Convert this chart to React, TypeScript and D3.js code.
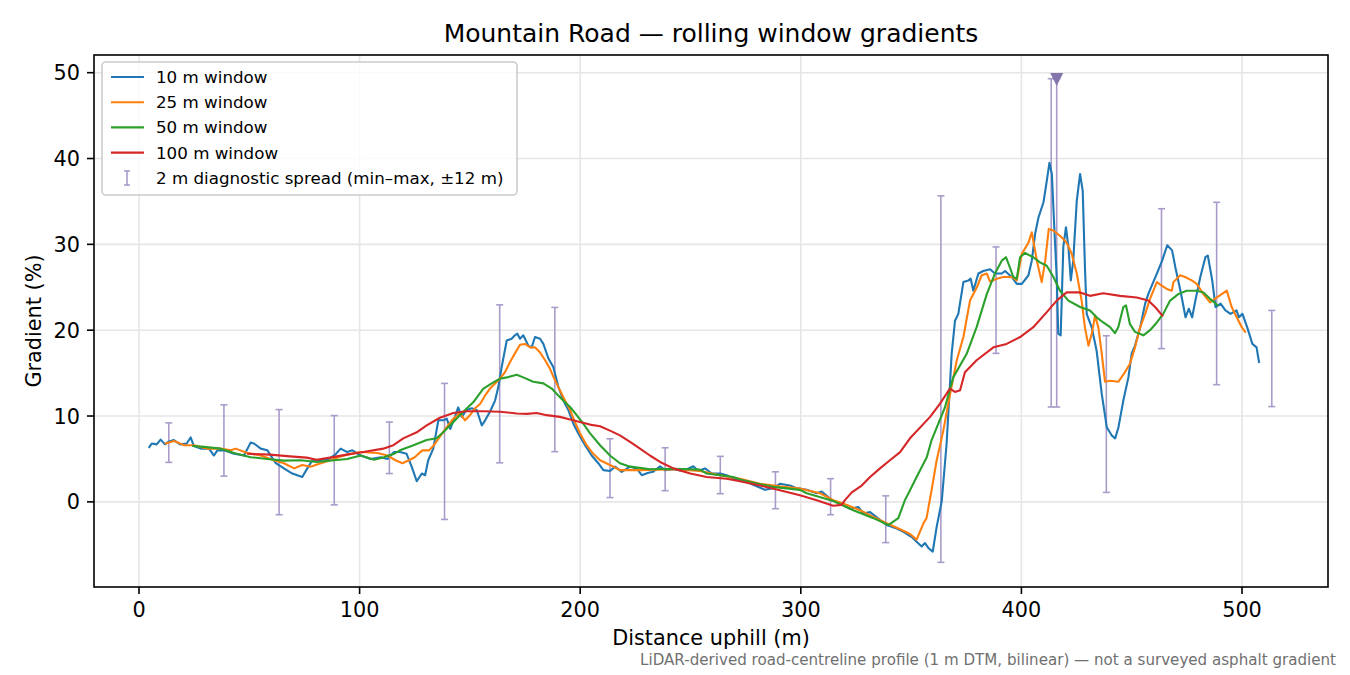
import React from "react";
import * as d3 from "d3";

const width = 1350;
const height = 675;
const plot = { left: 94, top: 55, right: 1328, bottom: 587 };
const FONT = "DejaVu Sans, Verdana, sans-serif";

const xTicks = [0, 100, 200, 300, 400, 500];
const yTicks = [0, 10, 20, 30, 40, 50];

// 10 m rolling window (distance m, gradient %)
const win10: [number, number][] = [
  [4.7, 6.4], [5.8, 6.8], [8.0, 6.7], [9.8, 7.25], [11.8, 6.7], [13.3, 7.0], [15.8, 7.2], [18.6, 6.7],
  [21.6, 6.8], [23.4, 7.5], [24.9, 6.5], [28, 6.2], [31.7, 6.2], [34, 5.4], [35.5, 6.0], [38.5, 6.0],
  [43.1, 5.6], [47.6, 5.4], [50.6, 6.9], [52.1, 6.8], [55.2, 6.2], [58.2, 6.0], [62, 4.5], [65.7, 3.9],
  [69.5, 3.3], [74, 2.9], [76.3, 3.9], [78.6, 4.85], [80.1, 4.7], [82, 4.85], [86, 5.0], [89, 5.5],
  [91.4, 6.2], [94.4, 5.8], [96.7, 6.0], [100.5, 5.4], [105, 5.0], [109.6, 5.2], [112.6, 5.0], [115.6, 5.8],
  [118.3, 5.8], [121.3, 5.6], [123.6, 4.1], [125.9, 2.4], [128.2, 3.3], [129.7, 3.1], [131.1, 4.85],
  [133.4, 6.2], [135.7, 9.5], [138, 9.5], [139.5, 9.7], [141.1, 8.5], [143.2, 9.9], [144.7, 11.0],
  [146.3, 9.9], [148.5, 10.7], [150.8, 10.9], [153.1, 10.7], [155.4, 8.9], [156.9, 9.5], [159.1, 10.5],
  [161.4, 11.8], [162.9, 13.4], [164.4, 15.7], [166.7, 18.8], [168.9, 19.0], [170.4, 19.4], [171.5, 19.6],
  [172.7, 19.0], [174.2, 19.4], [176.5, 18.2], [178, 18.0], [179.5, 19.2], [181.8, 19.0], [183.3, 18.4],
  [185.6, 16.7], [187.8, 15.7], [190.1, 13.4], [192.4, 11.8], [194.6, 10.7], [196.9, 9.1], [199.1, 8.0],
  [202.2, 6.6], [205.2, 5.4], [208.2, 4.5], [210.5, 3.7], [213.5, 3.6], [215.8, 4.1], [218.8, 3.5],
  [222.6, 4.1], [225.6, 3.9], [227.9, 3.1], [230.9, 3.4], [233.1, 3.5], [236.2, 4.15], [238.4, 3.7],
  [242.2, 3.8], [246.7, 3.6], [251.3, 4.15], [253.5, 3.6], [256.6, 3.9], [259.6, 3.3], [263.4, 3.3],
  [266.4, 3.1], [269.4, 2.7], [275.5, 2.3], [279.2, 1.9], [283.8, 1.4], [287.5, 1.6], [290.5, 2.1],
  [295.1, 1.9], [298.1, 1.6], [302.7, 1.4], [307.2, 1.0], [309.5, 1.2], [314, 0.2], [317.8, -0.2],
  [322.3, -0.8], [326.1, -0.6], [328.3, -1.35], [331.4, -1.2], [335.9, -2.1], [338.9, -2.7], [343.5, -3.1],
  [346.5, -3.5], [350.3, -4.1], [352.5, -4.65], [354.8, -5.2], [356.3, -4.8], [357.9, -5.4], [359.8, -5.8],
  [361.6, -2.9], [363.9, 0.1], [366.1, 6.8], [368.4, 17.3], [369.9, 21.1], [371.4, 21.9], [373.7, 25.6],
  [376, 25.8], [377, 26.0], [378.2, 24.6], [380.5, 26.6], [382.7, 26.9], [385.8, 27.1], [388, 26.6],
  [391.1, 26.6], [392.6, 26.9], [395.6, 26.2], [397.9, 25.4], [400.2, 25.4], [403.2, 26.4], [404.7, 28.1],
  [406.2, 31.2], [407.7, 33.1], [410, 34.9], [411.5, 37.4], [412.7, 39.5], [413.8, 38.2], [414.9, 32.0],
  [416, 26.2], [416.7, 19.6], [417.8, 19.4], [419, 29.7], [420.2, 32.0], [421.3, 29.7], [422.4, 25.8],
  [423.5, 28.1], [425.1, 35.1], [426.6, 38.2], [427.8, 36.2], [428.8, 27.3], [429.6, 21.9], [431.9, 20.3],
  [434.1, 17.6], [436.4, 12.6], [438.7, 8.7], [440.9, 7.75], [442.5, 7.4], [444, 8.7], [446.2, 11.8],
  [448.5, 14.5], [450, 17.3], [451.5, 18.2], [453.8, 20.3], [456.1, 23.1], [457.5, 24.2], [459.1, 25.2],
  [461.4, 26.6], [463.8, 28.1], [466.1, 29.9], [468.3, 29.3], [469.8, 27.3], [472.1, 24.6], [474.4, 21.5],
  [475.9, 22.5], [477.4, 21.5], [478.9, 23.5], [481.1, 26.2], [483.4, 28.5], [484.5, 28.7], [486.5, 25.8],
  [488, 22.7], [490.3, 23.1], [492.5, 22.3], [494.8, 21.9], [497.5, 22.3], [498.6, 21.5], [500.2, 21.9],
  [502.4, 20.3], [504.7, 18.4], [506.6, 18.0], [507.7, 16.3],
];

// 25 m rolling window
const win25: [number, number][] = [
  [12.1, 6.8], [15.9, 7.1], [20.4, 6.6], [24.9, 6.6], [31, 6.2], [37, 6.2], [41.6, 6.0], [43.8, 6.2],
  [49.1, 5.7], [55.2, 5.4], [61.2, 4.85], [65.7, 4.5], [70.3, 3.9], [74, 4.3], [77.8, 4.1], [82.4, 4.5],
  [86.9, 4.85], [91.4, 5.3], [96, 5.6], [100.5, 5.8], [108.1, 5.7], [112.6, 5.4], [116.3, 4.85],
  [119.4, 4.5], [122.4, 4.85], [125, 5.2], [128.4, 6.0], [131.5, 6.0], [133.7, 6.6], [136.4, 7.6],
  [139.5, 8.7], [142.5, 9.7], [145.5, 10.3], [147.8, 9.5], [150, 10.1], [152.3, 10.9], [154.6, 11.4],
  [156.9, 12.4], [159.1, 13.2], [161.4, 13.8], [163.6, 14.35], [165.9, 15.1], [168.2, 16.3], [170.4, 17.3],
  [172.7, 18.3], [175, 18.4], [177.3, 18.0], [179.5, 18.0], [181.8, 17.4], [184.1, 16.5], [186.3, 15.5],
  [188.6, 14.15], [190.8, 13.0], [193.1, 11.8], [195.4, 10.7], [197.6, 9.3], [199.9, 8.0], [202.9, 6.6],
  [205.9, 5.6], [209, 4.85], [213.5, 4.3], [218, 3.7], [227.1, 3.7], [242.2, 3.8], [254.3, 3.6],
  [263.4, 3.1], [272.4, 2.7], [281.5, 2.1], [290.5, 1.8], [299.6, 1.55], [308.7, 1.0], [314.7, 0.2],
  [319.2, -0.2], [326.8, -0.97], [332.9, -1.75], [338.9, -2.5], [345, -3.2], [349.5, -3.75], [352.5, -4.4],
  [355.6, -2.5], [357, -1.9], [359.3, 1.4], [361.6, 4.85], [364.6, 8.3], [367.7, 12.6], [370.7, 16.5],
  [373.7, 19.2], [376.7, 23.45], [379.8, 25.0], [382, 26.4], [384.3, 26.6], [385.8, 25.65], [388.8, 26.0],
  [391.8, 26.2], [395.6, 26.2], [397.9, 25.8], [400.2, 28.9], [403.2, 30.2], [404.7, 31.4], [407, 28.1],
  [409.2, 25.6], [410.8, 28.1], [412.4, 31.8], [414.5, 31.6], [417.5, 31.0], [420.5, 30.2], [422.8, 28.9],
  [425.1, 26.6], [427.3, 23.45], [428.8, 20.3], [430.4, 18.2], [431.9, 19.6], [433.4, 21.7], [434.9, 20.3],
  [436.4, 17.3], [437.9, 14.0], [440.2, 14.1], [444, 14.0], [446.9, 15.1], [449.2, 16.1], [451.5, 18.0],
  [453.8, 20.3], [456.1, 21.9], [458.3, 23.65], [461.4, 25.6], [463.6, 25.2], [465.9, 24.8], [468.2, 24.6],
  [468.9, 25.6], [472, 26.4], [474.2, 26.2], [477.2, 25.8], [479.5, 25.4], [482.5, 24.2], [485.5, 23.25],
  [488.5, 23.8], [490.8, 24.2], [493.1, 24.6], [495.3, 22.7], [497.6, 21.5], [499.9, 20.35], [501.4, 19.8],
];

// 50 m rolling window
const win50: [number, number][] = [
  [24.6, 6.5], [29.5, 6.4], [37, 6.2], [43.1, 5.7], [50.6, 5.2], [58.2, 5.0], [65.7, 4.8], [73.3, 4.85],
  [80.8, 4.65], [88.4, 4.85], [94.4, 5.0], [100.5, 5.4], [106.5, 4.9], [111.1, 5.2], [115.6, 5.6],
  [118.3, 6.0], [124.4, 6.6], [130.4, 7.2], [134.9, 7.4], [137.9, 8.1], [142.5, 9.3], [147, 10.5],
  [151.5, 11.6], [156.1, 13.2], [159.9, 13.8], [163.6, 14.35], [166.7, 14.5], [171.2, 14.8], [174.2, 14.5],
  [178.7, 14.0], [183.3, 13.8], [187.1, 13.2], [189.3, 12.6], [192.3, 11.8], [195.4, 11.05], [198.4, 10.1],
  [201.4, 9.1], [204.4, 8.0], [209, 6.6], [213.5, 5.4], [218, 4.5], [222.6, 4.1], [228.6, 3.9],
  [231.6, 3.8], [242.2, 3.85], [254.3, 3.75], [257.3, 3.3], [269.4, 2.9], [272.4, 2.6], [284.5, 1.9],
  [287.5, 1.75], [299.6, 1.4], [302.7, 1.0], [314.7, 0.1], [323.8, -0.97], [332.9, -1.9], [339.7, -2.7],
  [344.2, -1.9], [347.2, 0.2], [349.5, 1.36], [352.5, 2.9], [357.1, 5.2], [359.3, 7.2], [365.4, 11.05],
  [369.1, 14.5], [375.2, 17.25], [379.7, 20.35], [384.3, 24.2], [388, 26.6], [391.1, 28.1], [393, 28.5],
  [394.8, 27.3], [396.3, 26.2], [397.9, 26.0], [399.4, 28.5], [401.6, 29.0], [405.4, 28.5], [408.4, 27.9],
  [411.5, 27.5], [414.5, 26.2], [417.5, 24.6], [421.3, 23.45], [426.6, 22.7], [431.1, 22.3], [434.1, 21.5],
  [437.1, 20.9], [440.2, 20.35], [442.4, 19.65], [443.9, 20.35], [446.2, 22.7], [447.4, 22.9], [449.2, 20.7],
  [451.5, 19.8], [455.3, 19.4], [458.3, 20.0], [461.4, 20.9], [464.3, 21.9], [467.4, 23.45], [471.1, 24.2],
  [474.9, 24.6], [479.5, 24.6], [482.5, 24.4], [485.5, 23.65], [489, 22.9],
];

// 100 m rolling window
const win100: [number, number][] = [
  [49.5, 5.6], [59.4, 5.5], [68.4, 5.3], [76, 5.15], [80.5, 4.9], [86.6, 5.15], [94.2, 5.5], [101.7, 5.8],
  [110.7, 6.2], [115.3, 6.6], [119.8, 7.4], [125.9, 8.1], [130.4, 8.9], [136.4, 9.8], [142.5, 10.35],
  [148.5, 10.55], [156.1, 10.55], [163.6, 10.5], [171.2, 10.3], [175.8, 10.25], [180.3, 10.35],
  [184.8, 10.1], [190.8, 9.9], [195.4, 9.6], [199.9, 9.3], [204.4, 9.0], [209, 8.8], [213.5, 8.3],
  [218, 7.75], [222.6, 7.0], [227.1, 6.2], [231.6, 5.4], [236.2, 4.65], [242.2, 3.9], [249.9, 3.3],
  [257.3, 2.9], [266.4, 2.7], [272.4, 2.4], [281.5, 1.9], [290.5, 1.36], [299.6, 0.78], [307.2, 0.2],
  [314.7, -0.45], [318.5, -0.35], [320, 0.2], [323.1, 1.1], [327.6, 1.9], [331.4, 2.9], [335.9, 3.9],
  [340.4, 4.85], [345, 5.8], [349.5, 7.4], [358.6, 9.9], [363.1, 11.45], [367.6, 13.2], [369.9, 12.8],
  [372.2, 13.0], [374.4, 15.1], [379.7, 16.5], [387.3, 18.0], [393.3, 18.4], [399.4, 19.2], [405.4, 20.35],
  [411.5, 22.1], [416, 23.45], [420.5, 24.4], [426.6, 24.4], [431.1, 24.0], [437.1, 24.3], [444.7, 24.0],
  [452.3, 23.8], [457.5, 23.45], [460.6, 22.7], [463.9, 21.7],
];

// 2 m diagnostic spread (min–max, ±12 m)
const spreadX = [13.5, 38.5, 63.5, 88.5, 113.5, 138.5, 163.5, 188.5, 213.5, 238.5, 263.5, 288.5, 313.5, 338.5, 363.5, 388.5, 413.5, 416, 438.5, 463.5, 488.5, 513.5];
const spreadLo = [4.6, 3.0, -1.5, -0.35, 3.3, -2.05, 4.55, 5.85, 0.5, 1.3, 0.95, -0.8, -1.5, -4.75, -7.05, 17.3, 11.05, 11.05, 1.1, 17.85, 13.65, 11.1];
const spreadHi = [9.2, 11.3, 10.75, 10.05, 9.3, 13.8, 22.95, 22.65, 7.35, 6.3, 5.3, 3.5, 2.7, 0.7, 35.65, 29.7, 49.3, 49.25, 19.35, 34.15, 34.9, 22.3];
const clippedX = [416];
const clippedY = [49.25];

const seriesNames = ["10 m window", "25 m window", "50 m window", "100 m window"];
const seriesColors = ["#1f77b4", "#ff7f0e", "#2ca02c", "#d62728"];
const seriesData = [win10, win25, win50, win100];
const spreadLabel = "2 m diagnostic spread (min–max, ±12 m)";

const App: React.FC = () => {
  const x = d3.scaleLinear().domain([-20.4, 538.98]).range([plot.left, plot.right]);
  const y = d3.scaleLinear().domain([-9.92, 52.06]).range([plot.bottom, plot.top]);
  const line = d3
    .line<[number, number]>()
    .x((d) => x(d[0]))
    .y((d) => y(d[1]));

  const barColor = "#a99ccb";
  const cap = 3.5;

  return (
    <div>
      <style>{`body{margin:0;background:#fff}`}</style>
      <svg width={width} height={height} style={{ display: "block", fontFamily: FONT }}>
        <rect width={width} height={height} fill="#fff" />
        <defs>
          <clipPath id="plotClip">
            <rect x={plot.left} y={plot.top} width={plot.right - plot.left} height={plot.bottom - plot.top} />
          </clipPath>
        </defs>

        {/* grid */}
        {xTicks.map((t) => (
          <line key={"gx" + t} x1={x(t)} x2={x(t)} y1={plot.top} y2={plot.bottom} stroke="#e6e6e6" strokeWidth={1.6} />
        ))}
        {yTicks.map((t) => (
          <line key={"gy" + t} x1={plot.left} x2={plot.right} y1={y(t)} y2={y(t)} stroke="#e6e6e6" strokeWidth={1.6} />
        ))}

        <g clipPath="url(#plotClip)">
          {/* spread bars */}
          {spreadX.map((sx, i) => (
            <g key={"eb" + i} stroke={barColor} strokeWidth={1.6}>
              <line x1={x(sx)} x2={x(sx)} y1={y(spreadLo[i])} y2={y(spreadHi[i])} />
              <line x1={x(sx) - cap} x2={x(sx) + cap} y1={y(spreadLo[i])} y2={y(spreadLo[i])} />
              <line x1={x(sx) - cap} x2={x(sx) + cap} y1={y(spreadHi[i])} y2={y(spreadHi[i])} />
            </g>
          ))}

          {seriesData.map((d, i) => (
            <path
              key={"s" + i}
              d={line(d) ?? ""}
              fill="none"
              stroke={seriesColors[i]}
              strokeWidth={2.1}
              strokeLinejoin="round"
              strokeLinecap="square"
            />
          ))}

          {clippedX.map((cx, i) => {
            const px = x(cx);
            const py = y(clippedY[i]);
            return (
              <path
                key={"m" + i}
                d={`M${px - 6.5},${py - 6} L${px + 6.5},${py - 6} L${px},${py + 7} Z`}
                fill="#8475ab"
              />
            );
          })}
        </g>

        {/* frame */}
        <rect
          x={plot.left}
          y={plot.top}
          width={plot.right - plot.left}
          height={plot.bottom - plot.top}
          fill="none"
          stroke="#000"
          strokeWidth={1.6}
        />

        {/* x axis */}
        {xTicks.map((t) => (
          <g key={"xt" + t}>
            <line x1={x(t)} x2={x(t)} y1={plot.bottom} y2={plot.bottom + 7} stroke="#000" strokeWidth={1.6} />
            <text x={x(t)} y={plot.bottom + 30} textAnchor="middle" fontSize={20.8} fill="#000">
              {t}
            </text>
          </g>
        ))}
        {/* y axis */}
        {yTicks.map((t) => (
          <g key={"yt" + t}>
            <line x1={plot.left - 7} x2={plot.left} y1={y(t)} y2={y(t)} stroke="#000" strokeWidth={1.6} />
            <text x={plot.left - 14} y={y(t)} dy="0.36em" textAnchor="end" fontSize={20.8} fill="#000">
              {t}
            </text>
          </g>
        ))}

        <text x={(plot.left + plot.right) / 2} y={645} textAnchor="middle" fontSize={20.8} fill="#000">
          Distance uphill (m)
        </text>
        <text
          transform={`translate(41, ${(plot.top + plot.bottom) / 2}) rotate(-90)`}
          textAnchor="middle"
          fontSize={20.8}
          fill="#000"
        >
          Gradient (%)
        </text>
        <text x={(plot.left + plot.right) / 2} y={42} textAnchor="middle" fontSize={25} fill="#000">
          Mountain Road — rolling window gradients
        </text>
        <text x={1336} y={665} textAnchor="end" fontSize={15.1} fill="#707070">
          LiDAR-derived road-centreline profile (1 m DTM, bilinear) — not a surveyed asphalt gradient
        </text>

        {/* legend */}
        <g>
          <rect x={102} y={62} width={415} height={133} rx={4} fill="#fff" fillOpacity={0.8} stroke="#cccccc" strokeWidth={1.6} />
          {seriesNames.map((name, i) => {
            const cy = 77 + i * 25.2;
            return (
              <g key={"lg" + i}>
                <line x1={111} x2={144} y1={cy} y2={cy} stroke={seriesColors[i]} strokeWidth={2.1} />
                <text x={156} y={cy} dy="0.36em" fontSize={16.7} fill="#000">
                  {name}
                </text>
              </g>
            );
          })}
          <g stroke={barColor} strokeWidth={1.6}>
            <line x1={127} x2={127} y1={171} y2={185} />
            <line x1={124} x2={130} y1={171} y2={171} />
            <line x1={124} x2={130} y1={185} y2={185} />
          </g>
          <text x={156} y={178} dy="0.36em" fontSize={16.7} fill="#000">
            {spreadLabel}
          </text>
        </g>
      </svg>
    </div>
  );
};

export default App;
